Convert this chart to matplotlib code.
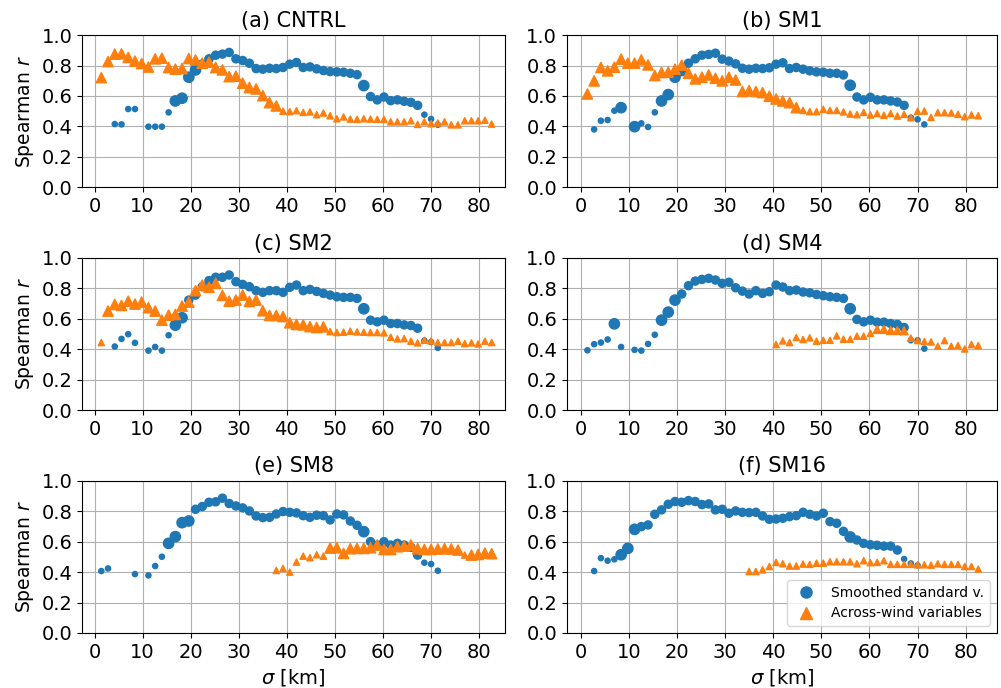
import numpy as np
import matplotlib
matplotlib.use("Agg")
import matplotlib.pyplot as plt
from matplotlib.lines import Line2D

# smoothing scale sigma [km], equally spaced
sigma = [1.4, 2.8, 4.2, 5.6, 7.0, 8.4, 9.8, 11.2, 12.6, 14.0,
         15.4, 16.8, 18.2, 19.6, 21.0, 22.4, 23.8, 25.2, 26.6, 28.0,
         29.4, 30.8, 32.2, 33.6, 35.0, 36.4, 37.8, 39.2, 40.6, 42.0,
         43.4, 44.8, 46.2, 47.6, 49.0, 50.4, 51.8, 53.2, 54.6, 56.0,
         57.4, 58.8, 60.2, 61.6, 63.0, 64.4, 65.8, 67.2, 68.6, 70.0,
         71.4, 72.8, 74.2, 75.6, 77.0, 78.4, 79.8, 81.2, 82.6]

titles = ["(a) CNTRL", "(b) SM1", "(c) SM2", "(d) SM4", "(e) SM8", "(f) SM16"]
N = None

# Spearman r, smoothed standard variables (None = not shown)
std_cntrl = [N, N, 0.415, 0.413, 0.514, 0.514, N, 0.398, 0.398, 0.398,
             0.492, 0.567, 0.585, 0.723, 0.771, 0.81, 0.844, 0.868, 0.875, 0.886,
             0.844, 0.833, 0.815, 0.78, 0.776, 0.782, 0.78, 0.787, 0.809, 0.82,
             0.787, 0.791, 0.778, 0.767, 0.76, 0.758, 0.756, 0.749, 0.74, 0.668,
             0.596, 0.574, 0.593, 0.569, 0.574, 0.565, 0.558, 0.538, 0.477, 0.448,
             0.411, N, N, N, N, N, N, N, N]
std_sm1 = [N, 0.38, 0.437, 0.442, 0.503, 0.523, N, 0.398, 0.42, 0.396,
           0.492, 0.567, 0.609, 0.723, 0.767, 0.815, 0.844, 0.868, 0.873, 0.881,
           0.842, 0.829, 0.811, 0.782, 0.776, 0.782, 0.78, 0.785, 0.809, 0.818,
           0.78, 0.787, 0.776, 0.765, 0.758, 0.756, 0.749, 0.749, 0.738, 0.67,
           0.593, 0.574, 0.591, 0.574, 0.574, 0.567, 0.56, 0.538, 0.457, 0.446,
           0.413, N, N, N, N, N, N, N, N]
std_sm2 = [N, N, 0.418, 0.468, 0.499, 0.442, N, 0.391, 0.415, 0.391,
           0.492, 0.558, 0.607, 0.723, 0.756, 0.811, 0.851, 0.873, 0.873, 0.888,
           0.844, 0.826, 0.811, 0.785, 0.774, 0.785, 0.785, 0.774, 0.807, 0.822,
           0.785, 0.793, 0.78, 0.767, 0.756, 0.745, 0.741, 0.741, 0.734, 0.666,
           0.591, 0.58, 0.591, 0.569, 0.569, 0.56, 0.556, 0.538, 0.457, 0.448,
           0.409, N, N, N, N, N, N, N, N]
std_sm4 = [0.393, 0.433, 0.444, 0.464, 0.567, 0.415, N, 0.396, 0.391, 0.435,
           0.495, 0.591, 0.644, 0.723, 0.763, 0.818, 0.848, 0.859, 0.866, 0.855,
           0.833, 0.84, 0.804, 0.782, 0.763, 0.785, 0.767, 0.778, 0.822, 0.809,
           0.785, 0.789, 0.776, 0.771, 0.76, 0.752, 0.745, 0.741, 0.734, 0.666,
           0.596, 0.58, 0.591, 0.578, 0.578, 0.569, 0.563, 0.543, 0.459, 0.459,
           0.404, N, N, N, N, N, N, N, N]
std_sm8 = [0.407, 0.424, N, N, N, 0.387, N, 0.378, 0.44, 0.501,
           0.589, 0.633, 0.725, 0.736, 0.813, 0.831, 0.859, 0.862, 0.886, 0.851,
           0.835, 0.822, 0.802, 0.769, 0.758, 0.76, 0.782, 0.798, 0.793, 0.789,
           0.771, 0.76, 0.774, 0.771, 0.743, 0.782, 0.776, 0.736, 0.708, 0.666,
           0.6, 0.578, 0.6, 0.578, 0.589, 0.578, 0.563, 0.512, 0.462, 0.453,
           0.409, N, N, N, N, N, N, N, N]
std_sm16 = [N, 0.407, 0.492, 0.475, 0.484, 0.514, 0.556, 0.681, 0.699, 0.71,
            0.78, 0.809, 0.846, 0.864, 0.859, 0.87, 0.864, 0.844, 0.848, 0.809,
            0.813, 0.787, 0.802, 0.793, 0.791, 0.793, 0.769, 0.747, 0.749, 0.754,
            0.765, 0.771, 0.793, 0.78, 0.769, 0.787, 0.732, 0.721, 0.668, 0.631,
            0.611, 0.589, 0.58, 0.576, 0.571, 0.571, 0.545, 0.486, 0.457, 0.444,
            N, N, N, N, N, N, N, N, N]

# Spearman r, across-wind variables
aw_cntrl = [0.72, 0.826, 0.875, 0.877, 0.853, 0.829, 0.813, 0.79, 0.844, 0.848,
            0.787, 0.776, 0.78, 0.846, 0.837, 0.815, 0.822, 0.787, 0.771, 0.727,
            0.73, 0.684, 0.655, 0.646, 0.602, 0.556, 0.534, 0.50, 0.497, 0.503,
            0.492, 0.495, 0.477, 0.488, 0.47, 0.45, 0.462, 0.448, 0.446, 0.45,
            0.448, 0.446, 0.446, 0.43, 0.43, 0.43, 0.437, 0.413, 0.43, 0.418,
            0.422, 0.43, 0.41, 0.41, 0.437, 0.437, 0.437, 0.44, 0.415]
aw_sm1 = [0.613, 0.699, 0.787, 0.765, 0.789, 0.842, 0.815, 0.815, 0.837, 0.804,
          0.734, 0.754, 0.756, 0.776, 0.802, 0.749, 0.712, 0.723, 0.738, 0.716,
          0.699, 0.723, 0.705, 0.629, 0.635, 0.629, 0.622, 0.598, 0.58, 0.567,
          0.556, 0.523, 0.505, 0.497, 0.497, 0.512, 0.505, 0.505, 0.495, 0.481,
          0.477, 0.492, 0.475, 0.484, 0.473, 0.484, 0.468, 0.479, 0.457, 0.499,
          0.501, 0.459, 0.49, 0.49, 0.488, 0.479, 0.464, 0.475, 0.47]
aw_sm2 = [0.444, 0.651, 0.695, 0.688, 0.716, 0.697, 0.71, 0.673, 0.651, 0.591,
          0.624, 0.629, 0.684, 0.71, 0.785, 0.822, 0.807, 0.833, 0.754, 0.716,
          0.723, 0.756, 0.714, 0.723, 0.653, 0.622, 0.622, 0.615, 0.574, 0.563,
          0.56, 0.549, 0.543, 0.547, 0.516, 0.51, 0.512, 0.519, 0.514, 0.512,
          0.51, 0.51, 0.508, 0.479, 0.468, 0.47, 0.453, 0.442, 0.459, 0.455,
          0.444, 0.444, 0.444, 0.453, 0.437, 0.442, 0.435, 0.453, 0.444]
aw_sm4 = [N, N, N, N, N, N, N, N, N, N,
          N, N, N, N, N, N, N, N, N, N,
          N, N, N, N, N, N, N, N, 0.431, 0.455,
          0.444, 0.477, 0.464, 0.475, 0.453, 0.459, 0.459, 0.488, 0.466, 0.466,
          0.486, 0.486, 0.505, 0.53, 0.53, 0.523, 0.523, 0.521, 0.473, 0.457,
          0.451, 0.448, 0.42, 0.457, 0.42, 0.424, 0.402, 0.431, 0.424]
aw_sm8 = [N, N, N, N, N, N, N, N, N, N,
          N, N, N, N, N, N, N, N, N, N,
          N, N, N, N, N, N, 0.411, 0.424, 0.40, 0.466,
          0.505, 0.495, 0.514, 0.505, 0.558, 0.56, 0.523, 0.554, 0.556, 0.556,
          0.56, 0.578, 0.549, 0.549, 0.567, 0.571, 0.578, 0.554, 0.549, 0.549,
          0.552, 0.554, 0.552, 0.545, 0.512, 0.512, 0.516, 0.525, 0.521]
aw_sm16 = [N, N, N, N, N, N, N, N, N, N,
           N, N, N, N, N, N, N, N, N, N,
           N, N, N, N, 0.404, 0.404, 0.415, 0.437, 0.464, 0.455,
           0.44, 0.44, 0.453, 0.451, 0.459, 0.459, 0.468, 0.468, 0.468, 0.468,
           0.455, 0.475, 0.462, 0.464, 0.475, 0.451, 0.451, 0.451, 0.451, 0.448,
           0.448, 0.446, 0.455, 0.451, 0.451, 0.451, 0.437, 0.437, 0.42]

# weight class of each point (1 low, 2 mid, 3 high), one digit per sigma
wstd_cntrl = "11111101111333322222222222222222222222232222222211100000000"
wstd_sm1 = "01111303111333322222222222222222222222232222222211100000000"
wstd_sm2 = "00111101111332222222222222222222222222232222222211100000000"
wstd_sm4 = "11113101111333222222222222222222222222232222222211100000000"
wstd_sm8 = "11000101113333222222222222222222222222232222222211100000000"
wstd_sm16 = "01111333222222222222222222222222222222232222222111000000000"
waw_cntrl = "33333333333333333333333333311111111111111111111111111111111"
waw_sm1 = "33333333333333333333333333333333111111111111111111111111111"
waw_sm2 = "13333333333333333333333333333333331111111111111111111111111"
waw_sm4 = "00000000000000000000000000001111111111111112222211111111111"
waw_sm8 = "00000000000000000000000000111111113333333333333333333313333"
waw_sm16 = "00000000000000000000000011111111111111111111111111111111111"

std_all = [std_cntrl, std_sm1, std_sm2, std_sm4, std_sm8, std_sm16]
aw_all = [aw_cntrl, aw_sm1, aw_sm2, aw_sm4, aw_sm8, aw_sm16]
wstd_all = [wstd_cntrl, wstd_sm1, wstd_sm2, wstd_sm4, wstd_sm8, wstd_sm16]
waw_all = [waw_cntrl, waw_sm1, waw_sm2, waw_sm4, waw_sm8, waw_sm16]

circle_area = {0: 0, 1: 14, 2: 34, 3: 55}
tri_area = {0: 0, 1: 20, 2: 32, 3: 55}

fig, axes = plt.subplots(3, 2, figsize=(10.01, 6.88), dpi=100,
                         gridspec_kw=dict(width_ratios=[423, 430]))
fig.subplots_adjust(left=0.082, right=0.996, top=0.949, bottom=0.080,
                    wspace=0.145, hspace=0.465)

x = np.array(sigma)
for i, ax in enumerate(axes.flat):
    ys = np.array([np.nan if v is None else v for v in std_all[i]])
    ya = np.array([np.nan if v is None else v for v in aw_all[i]])
    ss = [circle_area[int(c)] for c in wstd_all[i]]
    sa = [tri_area[int(c)] for c in waw_all[i]]
    ax.scatter(x, ys, s=ss, marker='o', color='#1f77b4', zorder=3)
    ax.scatter(x, ya, s=sa, marker='^', color='#ff7f0e', zorder=3)
    ax.set_title(titles[i], fontsize=15)
    ax.set_ylim(0, 1.0)
    ax.set_yticks(np.arange(0, 1.01, 0.2))
    ax.set_xticks(np.arange(0, 81, 10))
    if i % 2 == 0:
        ax.set_xlim(-2.6, 85.4)
        ax.set_ylabel("Spearman $r$", fontsize=13.5)
    else:
        ax.set_xlim(-2.85, 86.5)
    if i >= 4:
        ax.set_xlabel(r"$\sigma$ [km]", fontsize=14)
    ax.tick_params(labelsize=14)
    ax.grid(True, color='#b0b0b0', linewidth=0.8)
    ax.set_axisbelow(True)

handles = [Line2D([], [], marker='o', ls='', color='#1f77b4', markersize=8),
           Line2D([], [], marker='^', ls='', color='#ff7f0e', markersize=8)]
axes[2, 1].legend(handles, ["Smoothed standard v.", "Across-wind variables"],
                  loc='lower right', fontsize=10)

fig.savefig("out.png", dpi=100)
